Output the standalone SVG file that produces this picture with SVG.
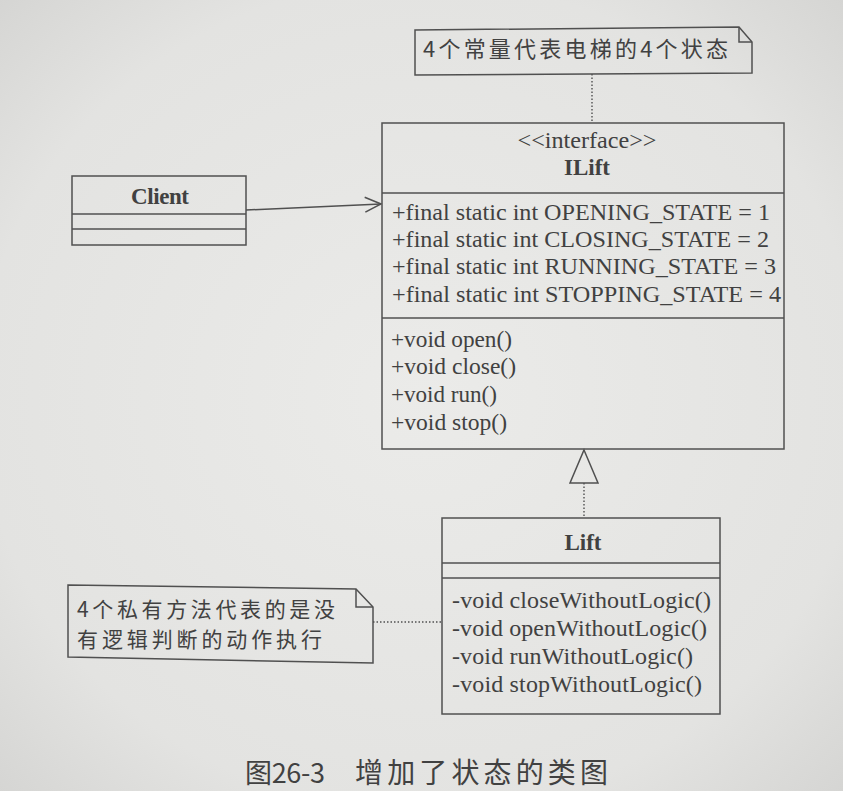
<svg xmlns="http://www.w3.org/2000/svg" width="843" height="791" viewBox="0 0 843 791">
  <defs>
    <style>
      .box { fill: none; stroke: #505050; stroke-width: 1.5; }
      .line { stroke: #505050; stroke-width: 1.5; fill: none; }
      .dot { stroke: #505050; stroke-width: 1.4; fill: none; stroke-dasharray: 1.5 2; }
      .t { font-family: "Liberation Serif", "Times New Roman", serif; font-size: 24px; fill: #414141; }
      .b { font-family: "Liberation Serif", "Times New Roman", serif; font-size: 23px; font-weight: bold; fill: #414141; }
      .cn { font-family: "Noto Sans CJK SC", "Liberation Sans", sans-serif; font-size: 22px; fill: #414141; }
      .cn-s { font-family: "Noto Sans CJK SC", "Liberation Sans", sans-serif; font-size: 21px; fill: #414141; }
    </style>
    <radialGradient id="paper" cx="0.5" cy="0.5" r="0.75">
      <stop offset="0" stop-color="#ebebe9"/>
      <stop offset="0.7" stop-color="#e3e3e1"/>
      <stop offset="1" stop-color="#d2d2d0"/>
    </radialGradient>
    <marker id="open" markerWidth="18" markerHeight="18" refX="17" refY="9" orient="auto" markerUnits="userSpaceOnUse">
      <path d="M1,1.5 L17,9 L1,16.5" fill="none" stroke="#505050" stroke-width="1.5"/>
    </marker>
  </defs>

  <rect width="843" height="791" fill="url(#paper)"/>

  <!-- constants note -->
  <g id="note-constants">
    <path class="box" d="M415,30 L739,27 L752,42 L752,73 L415,75 Z"/>
    <path class="box" d="M739,27 L739,42 L752,42"/>
    <text class="cn" x="423" y="57" textLength="305" lengthAdjust="spacing">4个常量代表电梯的4个状态</text>
  </g>

  <!-- ILift interface -->
  <g id="ILift">
    <rect class="box" x="382" y="123" width="402" height="326"/>
    <line class="line" x1="382" y1="193" x2="784" y2="193"/>
    <line class="line" x1="382" y1="318" x2="784" y2="318"/>
    <text class="t" x="587" y="148" text-anchor="middle" textLength="139" lengthAdjust="spacingAndGlyphs">&lt;&lt;interface&gt;&gt;</text>
    <text class="b" x="587" y="175" text-anchor="middle">ILift</text>
    <text class="t" x="392" y="220" textLength="378" lengthAdjust="spacingAndGlyphs">+final static int OPENING_STATE = 1</text>
    <text class="t" x="392" y="247" textLength="377" lengthAdjust="spacingAndGlyphs">+final static int CLOSING_STATE = 2</text>
    <text class="t" x="392" y="274" textLength="384" lengthAdjust="spacingAndGlyphs">+final static int RUNNING_STATE = 3</text>
    <text class="t" x="392" y="302" textLength="389" lengthAdjust="spacingAndGlyphs">+final static int STOPPING_STATE = 4</text>
    <text class="t" x="391" y="347" textLength="121" lengthAdjust="spacingAndGlyphs">+void open()</text>
    <text class="t" x="391" y="374" textLength="125" lengthAdjust="spacingAndGlyphs">+void close()</text>
    <text class="t" x="391" y="402" textLength="106" lengthAdjust="spacingAndGlyphs">+void run()</text>
    <text class="t" x="391" y="430" textLength="116" lengthAdjust="spacingAndGlyphs">+void stop()</text>
  </g>

  <!-- Client class -->
  <g id="Client">
    <rect class="box" x="72" y="176" width="174" height="69"/>
    <line class="line" x1="72" y1="214" x2="246" y2="214"/>
    <line class="line" x1="72" y1="229" x2="246" y2="229"/>
    <text class="b" x="160" y="204" text-anchor="middle" textLength="58" lengthAdjust="spacing">Client</text>
  </g>

  <!-- Lift class -->
  <g id="Lift">
    <rect class="box" x="442" y="518" width="278" height="196"/>
    <line class="line" x1="442" y1="563" x2="720" y2="563"/>
    <line class="line" x1="442" y1="578" x2="720" y2="578"/>
    <text class="b" x="583" y="550" text-anchor="middle">Lift</text>
    <text class="t" x="452" y="608" textLength="259" lengthAdjust="spacing">-void closeWithoutLogic()</text>
    <text class="t" x="452" y="636" textLength="255" lengthAdjust="spacing">-void openWithoutLogic()</text>
    <text class="t" x="452" y="664" textLength="241" lengthAdjust="spacing">-void runWithoutLogic()</text>
    <text class="t" x="452" y="692" textLength="250" lengthAdjust="spacing">-void stopWithoutLogic()</text>
  </g>

  <!-- private methods note -->
  <g id="note-private">
    <path class="box" d="M68,585 L356,589 L373,607 L373,663 L68,657 Z"/>
    <path class="box" d="M356,589 L356,607 L373,607"/>
    <text class="cn-s" x="77" y="617" textLength="258" lengthAdjust="spacing">4个私有方法代表的是没</text>
    <text class="cn-s" x="77" y="647" textLength="245" lengthAdjust="spacing">有逻辑判断的动作执行</text>
  </g>

  <!-- connectors -->
  <g id="connectors">
    <line class="line" x1="246" y1="210" x2="381" y2="204" marker-end="url(#open)"/>
    <line class="dot" x1="592" y1="74" x2="592" y2="123"/>
    <path class="line" d="M584,450 L598,483 L570,483 Z"/>
    <line class="dot" x1="584" y1="483" x2="584" y2="518"/>
    <line class="dot" x1="373" y1="622" x2="442" y2="622"/>
  </g>

  <!-- caption -->
  <text class="cn" x="245" y="783" style="font-size:27px" textLength="80" lengthAdjust="spacing">图26-3</text>
  <text class="cn" x="355" y="783" style="font-size:28px" textLength="253" lengthAdjust="spacing">增加了状态的类图</text>
</svg>
